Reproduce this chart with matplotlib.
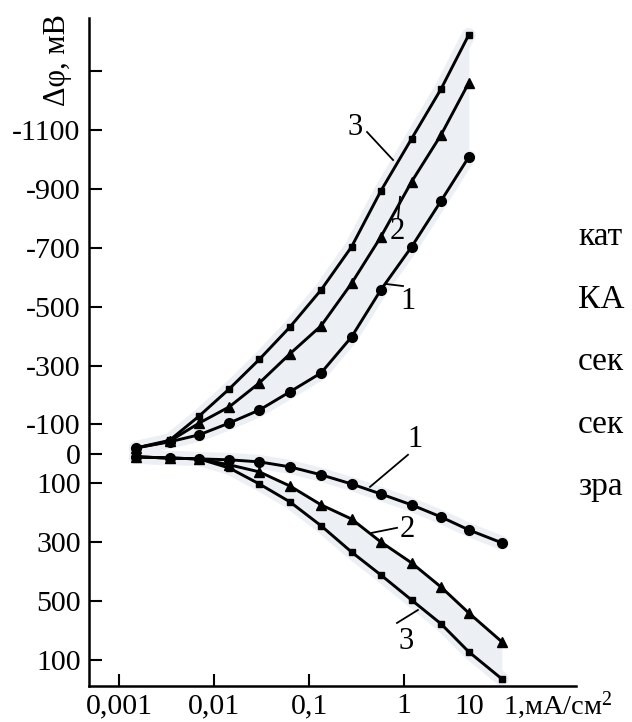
import numpy as np
import matplotlib
matplotlib.use("Agg")
import matplotlib.pyplot as plt

plt.rcParams['font.family'] = ['Liberation Serif', 'DejaVu Serif']
plt.rcParams['mathtext.fontset'] = 'custom'
plt.rcParams['mathtext.rm'] = 'Liberation Serif'
plt.rcParams['mathtext.it'] = 'Liberation Serif:italic'

# current density, mA/cm2 (log scale)
current = [0.0015, 0.0034, 0.007, 0.0145, 0.03, 0.063, 0.134, 0.28, 0.57, 1.2, 2.45, 4.8, 10.7]

# polarisation shift, mV (negative = cathodic branch, plotted upward)
cath_1 = [-20, -41, -65, -105, -149, -211, -275, -397, -557, -703, -859, -1008]
cath_2 = [-20, -43, -105, -160, -241, -340, -435, -579, -737, -924, -1083, -1260]
cath_3 = [-20, -46, -129, -221, -321, -431, -557, -703, -893, -1070, -1239, -1423]

anod_1 = [10, 14, 17, 20, 27, 44, 71, 102, 136, 173, 214, 258, 302]
anod_2 = [10, 14, 17, 37, 61, 109, 173, 221, 299, 370, 452, 540, 638]
anod_3 = [10, 14, 17, 48, 102, 163, 244, 333, 411, 496, 577, 672, 764]

y_ticks = [-1300, -1100, -900, -700, -500, -300, -100, 0, 100, 300, 500, 700]
y_tick_labels = ['', '-1100', '-900', '-700', '-500', '-300', '-100', '0', '100', '300', '500', '100']
x_ticks = [0.001, 0.01, 0.1, 1]
x_tick_labels = ['0,001', '0,01', '0,1', '1']

side_text = ['кат', 'КА', 'сек', 'сек', 'зра']

fig = plt.figure(figsize=(6.32, 7.22), dpi=100)
ax = fig.add_axes([0.1408, 0.0499, 0.7706, 0.9251])
ax.set_xscale('log')
ax.set_xlim(10 ** -3.316, 10 ** 1.81)
ax.set_ylim(788, -1480)

# pale background band around the curve families
haze = '#eceff4'
xc = current[:len(cath_1)]
ax.fill_between(xc, cath_1, cath_3, color=haze, lw=0, zorder=0)
ax.fill_between(current, anod_2, anod_3, color=haze, lw=0, zorder=0)
for xs, ys in [(xc, cath_1), (xc, cath_3), (current, anod_1), (current, anod_3)]:
    ax.plot(xs, ys, color=haze, lw=10, solid_capstyle='round', zorder=0)

style = dict(color='black', lw=2.1, zorder=3)
ax.plot(xc, cath_1, marker='o', ms=7, **style)
ax.plot(xc, cath_2, marker='^', ms=6.5, **style)
ax.plot(xc, cath_3, marker='s', ms=4.5, **style)
ax.plot(current, anod_1, marker='o', ms=7, **style)
ax.plot(current, anod_2, marker='^', ms=6.5, **style)
ax.plot(current, anod_3, marker='s', ms=4.5, **style)

# curve numbers with leader lines
lbl = dict(fontsize=22, ha='center', va='center')
leader = dict(color='black', lw=1.3)
ax.text(0.305, -1107, '3', **lbl)
ax.plot([0.408, 0.766], [-1093, -998], **leader)
ax.text(0.843, -754, '2', **lbl)
ax.plot([0.908, 0.865], [-873, -801], **leader)
ax.text(1.10, -516, '1', **lbl)
ax.plot([0.647, 0.975], [-577, -570], **leader)

ax.text(1.31, -48, '1', **lbl)
ax.plot([0.438, 1.10], [112, 3], **leader)
ax.text(1.08, 258, '2', **lbl)
ax.plot([0.46, 0.843], [268, 251], **leader)
ax.text(1.05, 636, '3', **lbl)
ax.plot([0.843, 1.40], [574, 530], **leader)

for s in ['top', 'right']:
    ax.spines[s].set_visible(False)
for s in ['left', 'bottom']:
    ax.spines[s].set_linewidth(1.8)

ax.set_yticks(y_ticks)
ax.set_yticklabels(y_tick_labels)
ax.set_xticks(x_ticks)
ax.set_xticklabels(x_tick_labels)
ax.minorticks_off()
ax.tick_params(axis='both', direction='in', length=9, width=1.5, labelsize=21.5)
ax.tick_params(axis='y', pad=6)
ax.tick_params(axis='x', pad=5)

for txt, xpos, ha, fs in [('10', 4.83, 'center', 21.5), ('1,мА/см$^2$', 10.9, 'left', 20.5)]:
    ax.annotate(txt, xy=(xpos, 0), xycoords=('data', 'axes fraction'),
                xytext=(0, -20), textcoords='offset points',
                ha=ha, va='baseline', fontsize=fs)

fig.text(57 / 632, 1 - 60 / 722, 'Δφ, мВ', rotation=90, ha='center', va='center', fontsize=22)

for i, t in enumerate(side_text):
    fig.text(578 / 632, 1 - (237 + 62.5 * i) / 722, t, ha='left', va='center', fontsize=24)

fig.savefig('out.png', dpi=100)
